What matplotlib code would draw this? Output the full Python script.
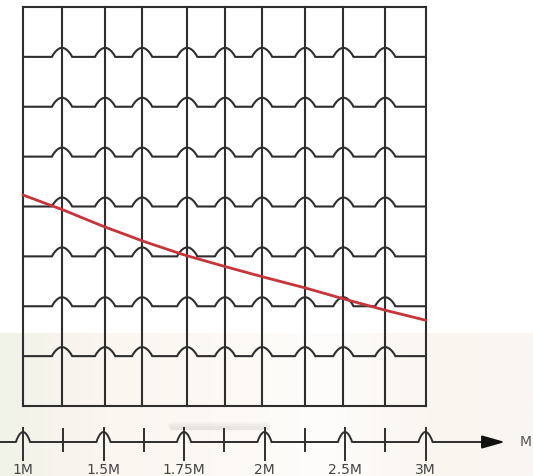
import numpy as np
import matplotlib.pyplot as plt
from matplotlib.colors import LinearSegmentedColormap

# vertical grid lines (in axis tick units) and horizontal rows
grid_x = [0, 0.97, 2.04, 2.96, 4.08, 5.02, 5.94, 7.01, 7.96, 9.0, 10.0]
grid_rows = [0, 1, 2, 3, 4, 5, 6, 7, 8]

# axis ticks and labels
tick_pos = [0, 1, 2, 3, 4, 5, 6, 7, 8, 9, 10]
major_pos = [0, 2, 4, 6, 8, 10]
major_labels = ["1M", "1.5M", "1.75M", "2M", "2.5M", "3M"]

# red curve
curve_x = [0, 1, 2, 3, 4, 5, 6, 7, 8, 9, 10]
curve_y = [4.23, 3.93, 3.60, 3.30, 3.03, 2.80, 2.58, 2.37, 2.14, 1.92, 1.72]

PX_X = 40.25   # pixels per x unit
PX_Y = 49.875  # pixels per y unit
LINE = "#2e2e2e"


def hop_line(ax, x0, x1, y, centers, w, h, **kw):
    t = np.linspace(-1, 1, 41)
    prof = ((1 + np.cos(np.pi * t)) / 2) ** 0.4
    xs, ys = [x0], [y]
    for c in sorted(centers):
        xs.extend(c + t * w)
        ys.extend(y + prof * h)
    xs.append(x1)
    ys.append(y)
    ax.plot(xs, ys, **kw)


def main():
    fig = plt.figure(figsize=(5.33, 4.76), dpi=100)
    ax = fig.add_axes([0, 0, 1, 1])
    ax.set_xlim(-23 / PX_X, (533 - 23) / PX_X)
    ax.set_ylim(-70 / PX_Y, 8 + 7 / PX_Y)
    ax.axis("off")

    # faint tinted band in the lower part of the picture
    cmap = LinearSegmentedColormap.from_list(
        "bg", ["#f1f2e8", "#fbf6f0", "#fcf8f3", "#fefdfc", "#faf6f0", "#f9f7f2"])
    grad = np.linspace(0, 1, 256).reshape(1, -1)
    ax.imshow(grad, cmap=cmap, aspect="auto", zorder=0,
              extent=(ax.get_xlim()[0], ax.get_xlim()[1], ax.get_ylim()[0], (406 - 333) / PX_Y))

    # vertical grid lines
    for gx in grid_x:
        ax.plot([gx, gx], [grid_rows[0], grid_rows[-1]], color=LINE, lw=1.5, zorder=2)

    # horizontal lines, hopping over the inner verticals
    for gy in grid_rows:
        centers = grid_x[1:-1] if 0 < gy < grid_rows[-1] else []
        hop_line(ax, grid_x[0], grid_x[-1], gy, centers, 10 / PX_X, 9 / PX_Y,
                 color=LINE, lw=1.5, zorder=2)

    # red curve
    ax.plot(curve_x, curve_y, color="#c8343a", lw=2.0, zorder=3,
            solid_capstyle="round", solid_joinstyle="round")

    # bottom axis
    axis_y = -36 / PX_Y
    tip = (505 - 23) / PX_X
    # soft shadow smudge
    for k, a in enumerate([0.05, 0.05, 0.06]):
        ax.plot([3.7, 6.05], [axis_y + (16 - k) / PX_Y] * 2, color="#888888",
                lw=6 - 1.5 * k, alpha=a, solid_capstyle="round", zorder=1)
    hop_line(ax, ax.get_xlim()[0], tip - 18 / PX_X, axis_y, major_pos, 7 / PX_X, 10 / PX_Y,
             color=LINE, lw=1.4, zorder=2)
    ax.annotate("", xy=(tip, axis_y), xytext=(tip - 22 / PX_X, axis_y),
                arrowprops=dict(arrowstyle="-|>,head_length=1.4,head_width=0.4",
                                color="#111111", lw=1.4, shrinkA=0, shrinkB=0))
    ax.text((520 - 23) / PX_X, axis_y, "M", fontsize=10, color="#555555",
            ha="left", va="center")

    for tp in tick_pos:
        if tp in major_pos:
            ax.plot([tp, tp], [-22 / PX_Y, -54 / PX_Y], color=LINE, lw=1.4, zorder=2)
        else:
            ax.plot([tp, tp], [-23 / PX_Y, -45 / PX_Y], color=LINE, lw=1.4, zorder=2)

    for tp, lab in zip(major_pos, major_labels):
        ax.text(tp, -68 / PX_Y, lab, fontsize=10, color="#444444",
                ha="center", va="baseline")

    fig.savefig("out.png", dpi=100)


if __name__ == "__main__":
    main()
